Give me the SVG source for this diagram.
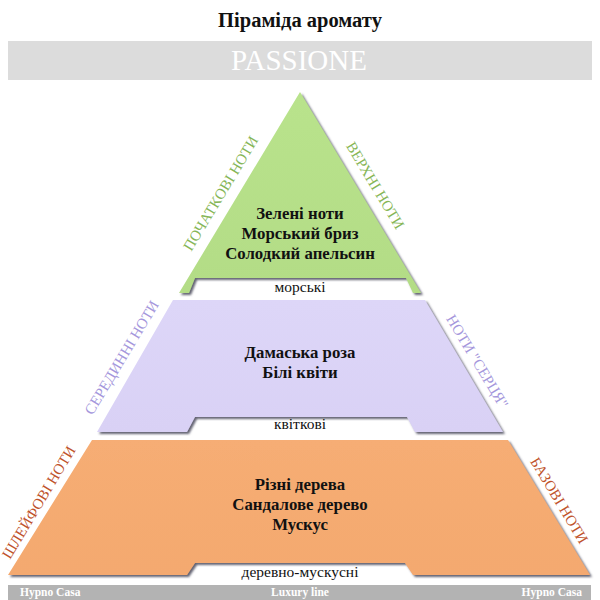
<svg xmlns="http://www.w3.org/2000/svg" width="600" height="600" viewBox="0 0 600 600">
<defs>
<filter id="sh" x="-10%" y="-10%" width="120%" height="130%">
<feDropShadow dx="2" dy="2" stdDeviation="1" flood-color="#4a4a5a" flood-opacity="0.85"/>
</filter>
<linearGradient id="gG" x1="0" y1="0" x2="0" y2="1"><stop offset="0" stop-color="#b9e38c"/><stop offset="1" stop-color="#b3dc86"/></linearGradient>
<linearGradient id="gP" x1="0" y1="0" x2="0" y2="1"><stop offset="0" stop-color="#ddd6f8"/><stop offset="1" stop-color="#d9d1f5"/></linearGradient>
<linearGradient id="gO" x1="0" y1="0" x2="0" y2="1"><stop offset="0" stop-color="#f6ad74"/><stop offset="1" stop-color="#f4a96f"/></linearGradient>
</defs>
<style>
text{font-family:"Liberation Serif","DejaVu Serif",serif}
.t{font-size:20.5px;font-weight:bold;fill:#111;text-anchor:middle}
.ban{font-size:29px;fill:#fff;text-anchor:middle}
.c{font-size:16.8px;font-weight:bold;fill:#111;text-anchor:middle}
.s{font-size:15.5px;fill:#111;text-anchor:middle}
.lab{font-size:15px;text-anchor:middle}
.f{font-size:11.5px;font-weight:bold;fill:#fff}
</style>
<rect width="600" height="600" fill="#fff"/>
<text class="t" x="300" y="27">Піраміда аромату</text>
<g id="banner">
<rect x="8" y="41" width="584" height="39" fill="#dcdcdc"/>
<text class="ban" x="299" y="70">PASSIONE</text>
</g>
<g id="top">
<polygon points="300,92 421,293 413,293 406,278 195,278 189,293 179,293" fill="url(#gG)" filter="url(#sh)"/>
<text class="c" x="300" y="219">Зелені ноти</text>
<text class="c" x="300" y="239">Морський бриз</text>
<text class="c" x="300" y="259">Солодкий апельсин</text>
<text class="s" x="300" y="292">морські</text>
<text class="lab" fill="#86b657" transform="translate(225,196) rotate(-59)">ПОЧАТКОВІ НОТИ</text>
<text class="lab" fill="#86b657" transform="translate(371,188) rotate(59)">ВЕРХНІ НОТИ</text>
</g>
<g id="middle">
<polygon points="173,300 425,300 503,432 415,432 407,417 195,417 187,432 97,432" fill="url(#gP)" filter="url(#sh)"/>
<text class="c" x="300" y="358">Дамаська роза</text>
<text class="c" x="300" y="378">Білі квіти</text>
<text class="s" x="300" y="429">квіткові</text>
<text class="lab" fill="#a597dc" transform="translate(126,360) rotate(-59)">СЕРЕДИННІ НОТИ</text>
<text class="lab" fill="#a597dc" transform="translate(473,364) rotate(59)">НОТИ "СЕРЦЯ"</text>
</g>
<g id="bottom">
<polygon points="92,440 508,440 590,575 413,575 405,563 195,563 187,575 8,575" fill="url(#gO)" filter="url(#sh)"/>
<text class="c" x="300" y="490">Різні дерева</text>
<text class="c" x="300" y="510">Сандалове дерево</text>
<text class="c" x="300" y="530">Мускус</text>
<text class="s" x="300" y="577">деревно-мускусні</text>
<text class="lab" fill="#c0532c" transform="translate(43,505) rotate(-59)">ШЛЕЙФОВІ НОТИ</text>
<text class="lab" fill="#c0532c" transform="translate(555,503) rotate(59)">БАЗОВІ НОТИ</text>
</g>
<g id="footer">
<rect x="8" y="585" width="583" height="15" fill="#b3b3b3"/>
<text class="f" x="20" y="596">Hypno Casa</text>
<text class="f" x="300" y="596" text-anchor="middle">Luxury line</text>
<text class="f" x="582" y="596" text-anchor="end">Hypno Casa</text>
</g>
<g id="connectors"/>
</svg>
